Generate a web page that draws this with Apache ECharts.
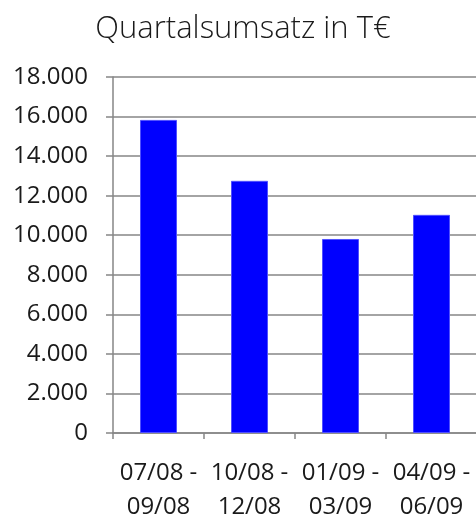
<!DOCTYPE html>
<html>
<head>
<meta charset="utf-8">
<script src="https://cdn.jsdelivr.net/npm/echarts@6/dist/echarts.min.js"></script>
<style>
html,body{margin:0;padding:0;background:#fff;}
#chart{width:476px;height:519px;}
</style>
</head>
<body>
<div id="chart"></div>
<script>
const titleText = 'Quartalsumsatz in T€';
const categories = ['07/08 -\n09/08', '10/08 -\n12/08', '01/09 -\n03/09', '04/09 -\n06/09'];
const revenue = [15830, 12750, 9810, 11030];
const yMin = 0, yMax = 18000, yStep = 2000;

const chart = echarts.init(document.getElementById('chart'), null, {renderer: 'canvas'});
const fmt = v => String(v).replace(/\B(?=(\d{3})+(?!\d))/g, '.');
const gray = '#868686';
chart.setOption({
  animation: false,
  backgroundColor: '#fff',
  title: {
    text: titleText,
    left: 238, top: 9, textAlign: 'center',
    textStyle: {fontFamily: 'Open Sans', fontSize: 31, fontWeight: 300, color: '#1a1a1a'}
  },
  grid: {left: 113, top: 77, width: 364, height: 356, containLabel: false, outerBoundsMode: 'none'},
  xAxis: {
    type: 'category',
    data: categories,
    boundaryGap: true,
    axisLine: {show: true, lineStyle: {color: gray, width: 1.5}},
    axisTick: {show: true, length: 6, alignWithLabel: false, lineStyle: {color: gray, width: 1.5}},
    axisLabel: {fontFamily: 'Open Sans', fontSize: 24, color: '#1a1a1a', margin: 23, lineHeight: 34, interval: 0}
  },
  yAxis: {
    type: 'value',
    min: yMin, max: yMax, interval: yStep,
    axisLine: {show: true, lineStyle: {color: gray, width: 1.5}},
    axisTick: {show: true, length: 7, lineStyle: {color: gray, width: 1.5}},
    splitLine: {show: true, lineStyle: {color: gray, width: 1.5}},
    axisLabel: {fontFamily: 'Open Sans', fontSize: 24, color: '#1a1a1a', margin: 25, formatter: fmt}
  },
  series: [{
    type: 'bar',
    data: revenue,
    barWidth: 37,
    itemStyle: {color: '#0000ff', borderColor: '#5050ff', borderWidth: 1}
  }]
});
</script>
</body>
</html>
